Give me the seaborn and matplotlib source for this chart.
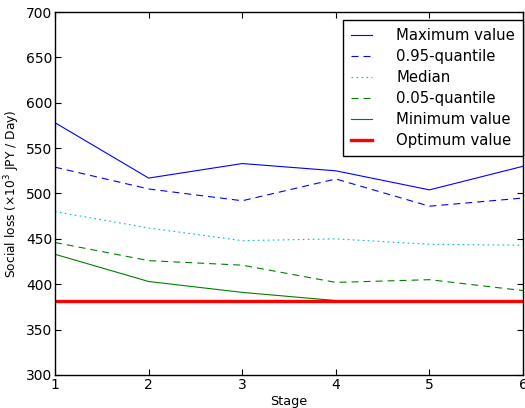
import pandas as pd
import matplotlib
matplotlib.use("Agg")
import matplotlib.pyplot as plt
import seaborn as sns

# values (x10^3 JPY / Day)
stages = [1, 2, 3, 4, 5, 6]
max_value = [578, 517, 533, 525, 504, 530]
q95 = [529, 505, 492, 516, 486, 495]
median = [480, 462, 448, 450, 444, 443]
q05 = [446, 426, 421, 402, 405, 393]
min_value = [433, 403, 391, 382, 382, 382]
optimum = [381.5, 381.5, 381.5, 381.5, 381.5, 381.5]

labels = ["Maximum value", "0.95-quantile", "Median",
          "0.05-quantile", "Minimum value", "Optimum value"]

plt.rcParams.update({
    "font.family": ["DejaVu Sans"],
    "font.size": 10.0,
    "xtick.direction": "in",
    "ytick.direction": "in",
    "xtick.top": True,
    "ytick.right": True,
    "xtick.major.size": 4.5,
    "ytick.major.size": 4.5,
    "xtick.major.pad": 2.5,
    "ytick.major.pad": 2,
    "axes.linewidth": 1.0,
})

fig = plt.figure(figsize=(5.25, 4.08), dpi=100)
ax = fig.add_axes([0.1048, 0.081, 0.8915, 0.8895])

estilos = [
    ("b", None, 0.8),
    ("b", (6.3, 4.5), 0.8),
    ("c", (1.5, 3.0), 0.8),
    ("g", (6.3, 4.5), 0.8),
    ("g", None, 0.8),
    ("r", None, 2.4),
]
series = [max_value, q95, median, q05, min_value, optimum]

for valores, label, (cor, dash, lw) in zip(series, labels, estilos):
    df = pd.DataFrame({"stage": stages, "loss": valores})
    linha = sns.lineplot(data=df, x="stage", y="loss", color=cor, lw=lw,
                         label=label, ax=ax, legend=False)
    if dash is not None:
        linha.lines[-1].set_dashes(dash)

ax.set_xlim(1, 6)
ax.set_ylim(300, 700)
ax.set_xticks(stages)
ax.set_yticks(range(300, 701, 50))
ax.set_xlabel("Stage", fontsize=9.2, labelpad=1.5)
ax.set_ylabel(r"Social loss ($\times10^3$ JPY / Day)", fontsize=8.8, labelpad=3)

ax.legend(loc="upper right", bbox_to_anchor=(1.0, 0.978), frameon=True,
          fancybox=False, edgecolor="black", framealpha=1, fontsize=10.7,
          handlelength=1.45, handletextpad=1.6, labelspacing=0.4,
          borderpad=0.55, borderaxespad=0)

fig.savefig("out.png", dpi=100)
